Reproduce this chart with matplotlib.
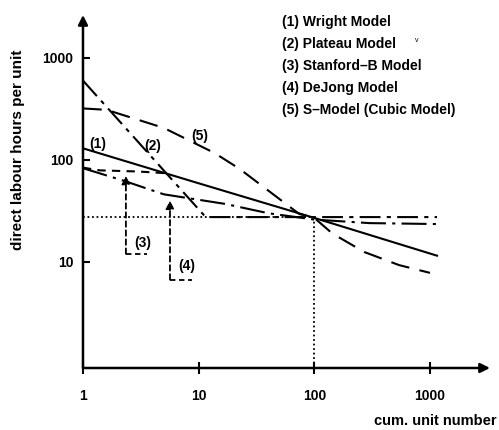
import numpy as np
import matplotlib.pyplot as plt

plt.rcParams['font.family'] = ['Liberation Sans', 'DejaVu Sans']

# values (cum. unit number, direct labour hours per unit)
wright_x = [1, 10, 100, 1150]
wright_y = [130, 59, 27, 11.5]

plateau_x = [1, 11.5, 100, 1150]
plateau_y = [600, 27.5, 27.5, 27.5]

stanford_x = [1, 1.4, 3, 5.3]
stanford_y = [84, 79, 77, 74]

dejong_x = [1, 2.3, 5, 17, 40, 100, 300, 1150]
dejong_y = [83, 62, 46, 37, 30, 26, 24, 23.5]

smodel_x = [1, 1.6, 5, 13.7, 22.5, 74, 100, 143, 270, 540, 1000]
smodel_y = [320, 310, 206, 117, 82, 29.5, 27, 19, 12.5, 9.3, 7.8]

ref_x = 100
ref_y = 27.5

legend_lines = ['(1) Wright Model', '(2) Plateau Model', '(3) Stanford\u2013B Model',
                '(4) DeJong Model', '(5) S\u2013Model (Cubic Model)']

fig = plt.figure(figsize=(4.99, 4.30), dpi=100)
ax = fig.add_axes([0.1663, 0.1442, 0.8156, 0.8209])
ax.set_xscale('log')
ax.set_yscale('log')
ax.set_xlim(1, 3300)
ax.set_ylim(0.91, 2640)

lw = 1.5
ax.plot(wright_x, wright_y, color='black', lw=lw)
ax.plot(plateau_x, plateau_y, color='black', lw=lw, dashes=(10, 3, 2, 3))
ax.plot(stanford_x, stanford_y, color='black', lw=lw, dashes=(4, 3))
ax.plot(dejong_x, dejong_y, color='black', lw=lw, dashes=(12, 3, 1.5, 3))
ax.plot(smodel_x, smodel_y, color='black', lw=lw, dashes=(9, 5))

# dotted reference lines
ax.plot([1, ref_x], [ref_y, ref_y], color='black', lw=1.3, ls=(0, (1, 1.5)))
ax.plot([ref_x, ref_x], [0.91, ref_y], color='black', lw=1.3, ls=(0, (1, 1.5)))

# curve labels
fs = 10
ax.text(1.35, 143, '(1)', fontsize=fs, fontweight='bold', ha='center', va='center')
ax.text(4.0, 137, '(2)', fontsize=fs, fontweight='bold', ha='center', va='center')
ax.text(10.3, 172, '(5)', fontsize=fs, fontweight='bold', ha='center', va='center')
ax.text(3.3, 15.4, '(3)', fontsize=fs, fontweight='bold', ha='center', va='center')
ax.text(7.9, 9.1, '(4)', fontsize=fs, fontweight='bold', ha='center', va='center')

# pointers for (3) and (4)
for px, tip, bot, hx in [(2.35, 70, 12, 3.6), (5.65, 40, 6.7, 8.7)]:
    ax.annotate('', xy=(px, tip), xytext=(px, bot),
                arrowprops=dict(arrowstyle='-|>', color='black', lw=1.3,
                                linestyle=(0, (3, 2)), mutation_scale=12,
                                shrinkA=0, shrinkB=0))
    ax.plot([px, hx], [bot, bot], color='black', lw=1.3, dashes=(3, 2))

# legend text
for i, s in enumerate(legend_lines):
    fig.text(282 / 499, 1 - (22 + i * 22) / 430, s, fontsize=fs, fontweight='bold',
             ha='left', va='center')
fig.text(417 / 499, 1 - 40 / 430, 'v', fontsize=5, ha='center', va='center')

# axes with arrows
for sp in ax.spines.values():
    sp.set_visible(False)
ax.annotate('', xy=(1.0, 0), xytext=(0, 0), xycoords='axes fraction',
            arrowprops=dict(arrowstyle='-|>', color='black', lw=1.8,
                            mutation_scale=14, shrinkA=0, shrinkB=0))
ax.annotate('', xy=(0, 1.0), xytext=(0, 0), xycoords='axes fraction',
            arrowprops=dict(arrowstyle='-|>', color='black', lw=1.8,
                            mutation_scale=14, shrinkA=0, shrinkB=0))

ax.set_xticks([1, 10, 100, 1000])
ax.set_xticklabels(['1', '10', '100', '1000'])
ax.set_yticks([10, 100, 1000])
ax.set_yticklabels(['10', '100', '1000'])
ax.minorticks_off()
ax.tick_params(axis='x', direction='inout', length=8, width=1.5, pad=11, labelsize=fs)
ax.tick_params(axis='y', direction='in', length=5, width=1.5, pad=7, labelsize=fs)
for lab in ax.get_xticklabels() + ax.get_yticklabels():
    lab.set_fontweight('bold')

fig.text(18 / 499, 1 - 150 / 430, 'direct labour hours per unit', rotation=90,
         fontsize=11, fontweight='bold', ha='center', va='center')
fig.text(497 / 499, 1 - 421 / 430, 'cum. unit number', fontsize=10.5,
         fontweight='bold', ha='right', va='center')

fig.savefig('out.png', dpi=100)
